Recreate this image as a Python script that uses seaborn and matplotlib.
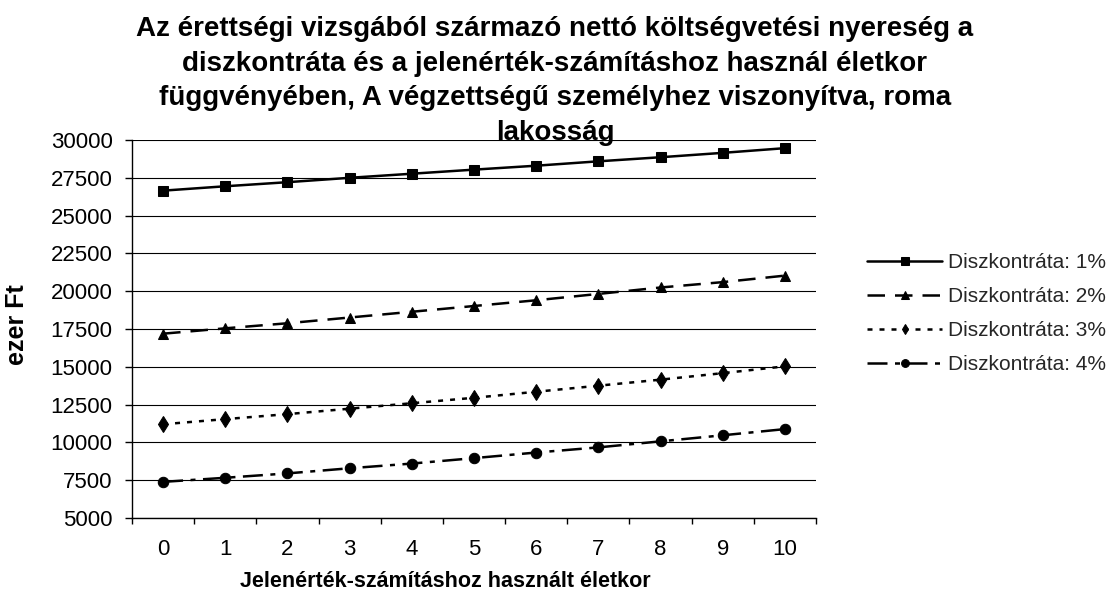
import numpy as np
import pandas as pd
import matplotlib
matplotlib.use("Agg")
import matplotlib.pyplot as plt
import seaborn as sns
from matplotlib.ticker import FixedLocator

# ---- data ----
ages = [0, 1, 2, 3, 4, 5, 6, 7, 8, 9, 10]
series_names = ["Diszkontráta: 1%", "Diszkontráta: 2%", "Diszkontráta: 3%", "Diszkontráta: 4%"]
rate1 = [26650, 26940, 27210, 27500, 27770, 28040, 28300, 28590, 28860, 29150, 29460]
rate2 = [17190, 17545, 17880, 18260, 18640, 19020, 19400, 19820, 20245, 20600, 21030]
rate3 = [11200, 11540, 11870, 12230, 12590, 12950, 13350, 13750, 14150, 14580, 15030]
rate4 = [7390, 7660, 7950, 8290, 8600, 8960, 9330, 9670, 10070, 10470, 10880]
y_ticks = [5000, 7500, 10000, 12500, 15000, 17500, 20000, 22500, 25000, 27500, 30000]

title = ("Az érettségi vizsgából származó nettó költségvetési nyereség a\n"
         "diszkontráta és a jelenérték-számításhoz használ életkor\n"
         "függvényében, A végzettségű személyhez viszonyítva, roma\n"
         "lakosság")
xlabel = "Jelenérték-számításhoz használt életkor"
ylabel = "ezer Ft"

df = pd.DataFrame({
    "age": ages * 4,
    "value": rate1 + rate2 + rate3 + rate4,
    "series": sum([[n] * len(ages) for n in series_names], []),
})

sns.set_theme(style="white")
plt.rcParams["font.family"] = ["Liberation Sans", "DejaVu Sans"]

W, H = 1111, 596
L, R, T, B = 132, 816, 140, 518
fig = plt.figure(figsize=(W / 100, H / 100), dpi=100)
ax = fig.add_axes([L / W, 1 - B / H, (R - L) / W, (B - T) / H])

markers = {series_names[0]: "s", series_names[1]: "^", series_names[2]: "d", series_names[3]: "o"}
dashes = {series_names[0]: "", series_names[1]: (7, 4),
          series_names[2]: (2, 2.8), series_names[3]: (8, 3, 2, 3)}
msizes = {series_names[0]: 7.2, series_names[1]: 7.5, series_names[2]: 8, series_names[3]: 7.5}

sns.lineplot(data=df, x="age", y="value", style="series", markers=markers, dashes=dashes,
             color="black", linewidth=1.8, markersize=7, markeredgecolor="black",
             ax=ax, legend=True, sort=False)

for line, name in zip(ax.lines, series_names):
    line.set_markersize(msizes[name])
    line.set_markerfacecolor("black")

ax.set_xlim(-0.5, 10.5)
ax.set_ylim(5000, 30000)
ax.set_yticks(y_ticks)
ax.set_xticks(ages)
ax.set_xticklabels([str(a) for a in ages])
ax.xaxis.set_minor_locator(FixedLocator(np.arange(-0.5, 10.6, 1)))
ax.grid(axis="y", color="black", linewidth=0.8)
ax.grid(axis="x", visible=False)
ax.set_axisbelow(True)
for s in ["top", "right"]:
    ax.spines[s].set_visible(False)
for s in ["left", "bottom"]:
    ax.spines[s].set_color("black")
    ax.spines[s].set_linewidth(1.0)

ax.tick_params(axis="y", which="major", direction="out", length=5, width=1, color="black",
               labelsize=16, pad=9, left=True)
ax.tick_params(axis="x", which="major", length=0, labelsize=16, pad=15)
ax.tick_params(axis="x", which="minor", direction="out", length=4, width=1, color="black", bottom=True)
for lbl in ax.get_xticklabels() + ax.get_yticklabels():
    lbl.set_color("black")

ax.set_xlabel(xlabel, fontsize=15.5, fontweight="bold", color="black")
ax.xaxis.set_label_coords((445 - L) / (R - L), (B - 571) / (B - T))
ax.set_ylabel(ylabel, fontsize=18, fontweight="bold", color="black")
ax.yaxis.set_label_coords((29 - L) / (R - L), (B - 325) / (B - T))

handles, labels = ax.get_legend_handles_labels()
for h in handles:
    h.set_linewidth(1.8)
ax.legend(handles, labels, loc="center left", bbox_to_anchor=(867 / W, 1 - 314 / H),
          bbox_transform=fig.transFigure, frameon=False, fontsize=15,
          handlelength=3.6, handletextpad=0.3, labelspacing=0.72,
          borderpad=0, borderaxespad=0, numpoints=1, markerscale=0.8)

fig.text(555 / W, 1 - 16 / H, title, ha="center", va="top", fontsize=20,
         fontweight="bold", linespacing=1.43, color="black")

fig.savefig("out.png", dpi=100, facecolor="white")
